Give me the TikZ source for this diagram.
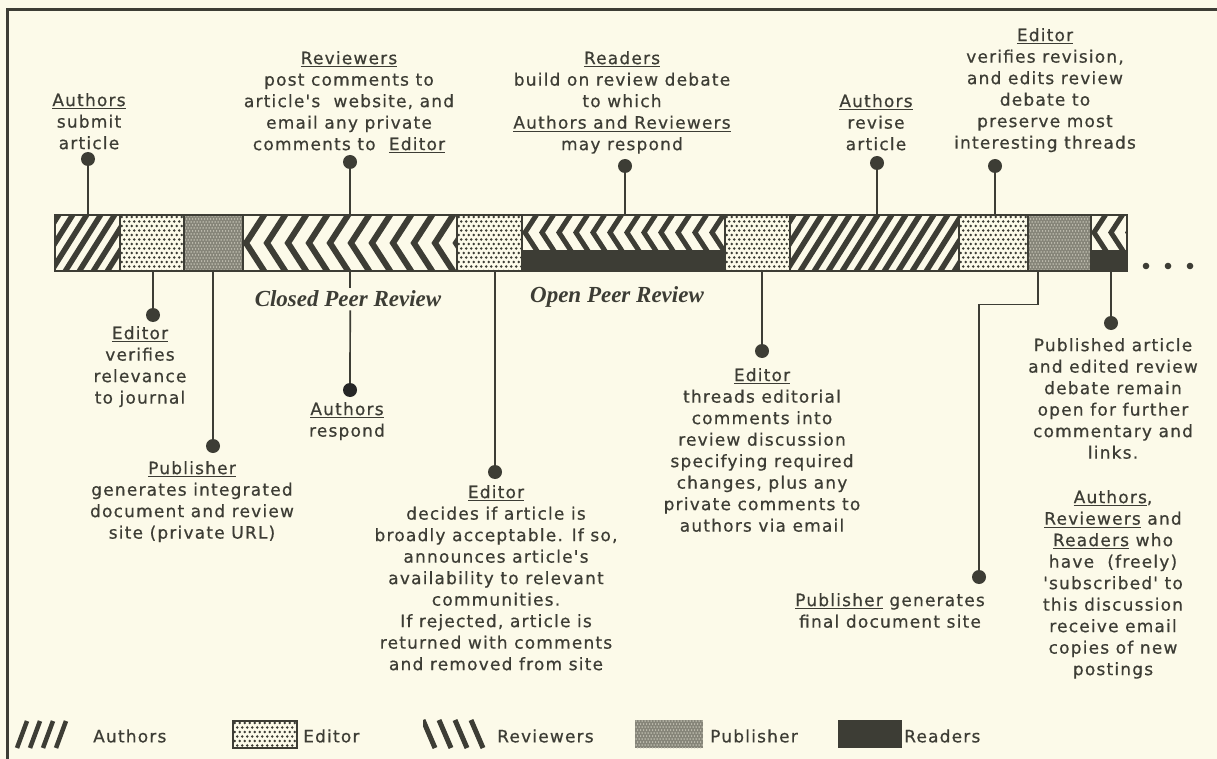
\documentclass[tikz,border=0pt]{standalone}
\usepackage{fontspec}
\setmainfont{DejaVu Sans}
\newfontfamily\lblfont[LetterSpace=7,FakeBold=0.6]{DejaVu Sans}
\newfontfamily\ttlfont{Liberation Serif}
\usetikzlibrary{calc}
\definecolor{bgc}{HTML}{FCFAE9}
\definecolor{dk}{HTML}{3D3D35}
\newcommand\myul[1]{\setbox0\hbox{#1}\rlap{\color{dk}\rule[-3.2pt]{\wd0}{1.3pt}}\box0\relax}
% patterns
\newcommand\hatchA[2]{\begin{scope}\clip (#1,215) rectangle (#2,271);
 \foreach \k in {0,...,18}{\draw[dk,line width=5.5pt] ({#1-50+14*\k},278) -- ++(44,-70);}
 \end{scope}}
\newcommand\dotsE[4]{\begin{scope}\clip (#1,#3) rectangle (#2,#4);
 \foreach \r in {0,...,12}{\foreach \c in {0,...,14}{\fill[dk] ({#1+1.8+5*\c+2.5*mod(\r,2)},{#3+2+4.5*\r}) circle (1.35);}}\end{scope}}
\newcommand\pubP[4]{\fill[dk!62!bgc] (#1,#3) rectangle (#2,#4);
 \begin{scope}\clip (#1,#3) rectangle (#2,#4);
 \foreach \r in {0,...,19}{\foreach \c in {0,...,23}{\fill[bgc!80!dk] ({#1+1+3*\c+1.5*mod(\r,2)},{#3+1+3*\r}) circle (0.75);}}\end{scope}}
\newcommand\chevF[2]{\begin{scope}\clip (#1,215) rectangle (#2,271);
 \foreach \k in {0,...,11}{\draw[dk,line width=6pt] ({#1+3+21*\k+22},209) -- ({#1+3+21*\k},243) -- ({#1+3+21*\k+22},277);}\end{scope}}
\newcommand\chevH[2]{\begin{scope}\clip (#1,215) rectangle (#2,250);
 \foreach \k in {0,...,13}{\draw[dk,line width=5pt] ({#1+3+17*\k+14},211) -- ({#1+3+17*\k},232.5) -- ({#1+3+17*\k+14},254);}\end{scope}
 \fill[dk] (#1,250) rectangle (#2,271);}
\tikzset{
 lbl/.style={font=\lblfont\fontsize{17}{21.5}\selectfont, align=center, inner sep=0pt, text=dk, anchor=north},
 leg/.style={font=\lblfont\fontsize{17}{21.5}\selectfont, inner sep=0pt, text=dk, anchor=west},
 pin/.style={circle, fill=dk, minimum size=14pt, inner sep=0pt},
 conn/.style={draw=dk, line width=1.7pt},
 seg/.style={rectangle, inner sep=0pt, minimum height=56pt, anchor=north west},
 phase/.style={font=\ttlfont\bfseries\itshape\fontsize{23}{26}\selectfont, text=dk, inner sep=3pt},
}
\begin{document}
\begin{tikzpicture}[x=1pt,y=-1pt]
\fill[bgc] (0,0) rectangle (1217,759);
\useasboundingbox (0,0) rectangle (1217,759);
% frame
\draw[dk,line width=3pt] (7,759) -- (7,9.5) -- (1217,9.5);
% bar segments
\node[seg,minimum width=65pt] (s1) at (55,215) {};
\node[seg,minimum width=64pt] (s2) at (120,215) {};
\node[seg,minimum width=59pt] (s3) at (184,215) {};
\node[seg,minimum width=214pt] (s4) at (243,215) {};
\node[seg,minimum width=65pt] (s5) at (457,215) {};
\node[seg,minimum width=203pt] (s6) at (522,215) {};
\node[seg,minimum width=65pt] (s7) at (725,215) {};
\node[seg,minimum width=169pt] (s8) at (790,215) {};
\node[seg,minimum width=69pt] (s9) at (959,215) {};
\node[seg,minimum width=63pt] (s10) at (1028,215) {};
\node[seg,minimum width=36pt] (s11) at (1091,215) {};
\hatchA{55}{120}
\dotsE{120}{184}{215}{271}
\pubP{184}{243}{215}{271}
\chevF{243}{457}
\dotsE{457}{522}{215}{271}
\chevH{522}{725}
\dotsE{725}{790}{215}{271}
\hatchA{790}{959}
\dotsE{959}{1028}{215}{271}
\pubP{1028}{1091}{215}{271}
\chevH{1091}{1127}
\foreach \x in {120,184,243,457,522,725,790,959,1028,1091} \draw[dk,line width=2pt] (\x,215) -- (\x,271);
\draw[dk,line width=2.5pt] (55,215) rectangle (1127,271);
\foreach \x in {1146,1168,1190} \fill[dk] (\x,266) circle (3.3);
% phase labels
\node[phase] (cpr) at (348,299) {Closed Peer Review};
\node[phase] (opr) at (617,297) {Open Peer Review};
% texts above
\node[lbl] (t1) at (89,93) {\myul{Authors}\\submit\\article};
\node[lbl] (t2) at (349,51) {\myul{Reviewers}\\post comments to\\article's\ \ website, and\\email any private\\comments to\ \ \myul{Editor}};
\node[lbl] (t3) at (622,51) {\myul{Readers}\\build on review debate\\to which\\\myul{Authors and Reviewers}\\may respond};
\node[lbl] (t4) at (876,94) {\myul{Authors}\\revise\\article};
\node[lbl] (t5) at (1045,28) {\myul{Editor}\\verifies revision,\\and edits review\\debate to\\preserve most\\interesting threads};
% texts below
\node[lbl] (t6) at (140,326) {\myul{Editor}\\verifies\\relevance\\to journal};
\node[lbl] (t7) at (192,461) {\myul{Publisher}\\generates integrated\\document and review\\site (private URL)};
\node[lbl] (t8) at (347,402) {\myul{Authors}\\respond};
\node[lbl] (t9) at (496,485) {\myul{Editor}\\decides if article is\\broadly acceptable. If so,\\announces article's\\availability to relevant\\communities.\\If rejected, article is\\returned with comments\\and removed from site};
\node[lbl] (t10) at (762,368) {\myul{Editor}\\threads editorial\\comments into\\review discussion\\specifying required\\changes, plus any\\private comments to\\authors via email};
\node[lbl] (t11) at (890,593) {\myul{Publisher} generates\\final document site};
\node[lbl] (t12) at (1113,338) {Published article\\and edited review\\debate remain\\open for further\\commentary and\\links.};
\node[lbl] (t13) at (1113,490) {\myul{Authors},\\\myul{Reviewers} and\\\myul{Readers} who\\have\ \ (freely)\\'subscribed' to\\this discussion\\receive email\\copies of new\\postings};
% connectors
\coordinate (c1) at (88,159);
\coordinate (c2) at (350,162);
\coordinate (c3) at (625,166);
\coordinate (c4) at (877,163);
\coordinate (c5) at (995,166);
\coordinate (c6) at (153,315);
\coordinate (c7) at (213,446);
\coordinate (c8) at (350,390);
\coordinate (c9) at (495,472);
\coordinate (c10) at (762,351);
\coordinate (c11) at (979,577);
\coordinate (c12) at (1111,323);
\draw[conn] (c1) -- (c1 |- s1.north);
\draw[conn] (c2) -- (c2 |- s4.north);
\draw[conn] (c3) -- (c3 |- s6.north);
\draw[conn] (c4) -- (c4 |- s8.north);
\draw[conn] (c5) -- (c5 |- s9.north);
\draw[conn] (c6) -- (c6 |- s2.south);
\draw[conn] (c7) -- (c7 |- s3.south);
\draw[conn] (s4.south) -- (s4.south |- cpr.north);
\draw[conn] (s4.south |- cpr.south) -- (c8);
\draw[conn] (c9) -- (c9 |- s5.south);
\draw[conn] (c10) -- (c10 |- s7.south);
\draw[conn] ($(s10.south west)+(10,0)$) -- ++(0,33) -| (c11);
\draw[conn] (c12) -- (c12 |- s11.south);
% pins
\foreach \i in {1,2,3,4,5,6,7,9,10,11,12} \node[pin] (p\i) at (c\i) {};
\node[pin,fill=black!85] (p8) at (c8) {};
% legend
\foreach \x in {17,30,43,56} \draw[dk,line width=4.5pt] (\x,748) -- ++(10,-27);
\node[leg] (lA) at (93,736) {Authors};
\dotsE{233}{297}{721}{748}
\draw[dk,line width=1.6pt] (233,721) rectangle (297,748);
\node[leg] (lE) at (303,736) {Editor};
\begin{scope}\clip (423,719) rectangle (490,750);
\foreach \x in {423,439,455,471} \draw[dk,line width=5pt] (\x,720) -- ++(12,28);
\end{scope}
\node[leg] (lR) at (497,736) {Reviewers};
\pubP{635}{703}{720}{748}
\node[leg] (lP) at (710,736) {Publisher};
\fill[dk] (838,720) rectangle (902,748);
\node[leg] (lD) at (904,736) {Readers};
\end{tikzpicture}
\end{document}
